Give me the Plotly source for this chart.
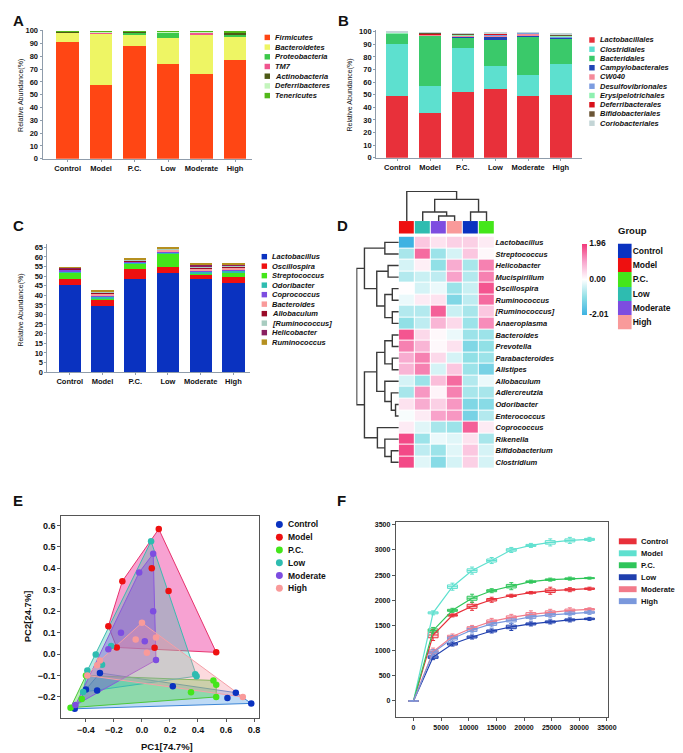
import plotly.graph_objects as go

W, H = 683, 753
FONT = "Liberation Sans, Arial, sans-serif"

#######################################################################################################################
# Data #
#######################################################################################################################

groups = ["Control", "Model", "P.C.", "Low", "Moderate", "High"]
group_colors = ["#0a32c0", "#ee1010", "#44e61a", "#2ebcb0", "#7d4de0", "#f99a9a"]
xpos = [0, 1, 2, 3, 4, 5]

# Panel A - phylum level (%)
phyla = ["Firmicutes", "Bacteroidetes", "Proteobacteria", "TM7", "Actinobacteria", "Deferribacteres", "Tenericutes"]
phyla_colors = ["#ff4614", "#eef564", "#3cc84a", "#f0558f", "#4d5a16", "#c4f5bd", "#52b81a"]
firmicutes = [91.5, 57.7, 88.4, 73.7, 66.5, 76.8]
bacteroidetes = [7.5, 40.5, 8.2, 20.9, 30.9, 19.3]
proteobacteria = [0.3, 0.3, 2.3, 4.1, 0.4, 1.3]
tm7 = [0.1, 0.2, 0.5, 0.3, 0.9, 0.3]
actinobacteria = [0.3, 0.6, 0.2, 0.3, 0.6, 1.4]
deferribacteres = [0.2, 0.4, 0.2, 0.4, 0.4, 0.3]
tenericutes = [0.1, 0.1, 0.2, 0.3, 0.3, 0.6]
a_values = [firmicutes, bacteroidetes, proteobacteria, tm7, actinobacteria, deferribacteres, tenericutes]

# Panel B - order level (%)
orders = ["Lactobacillales", "Clostridiales", "Bacteridales", "Campylobacterales", "CW040",
          "Desulfovibrionales", "Erysipelotrichales", "Deferribacterales", "Bifidobacteriales", "Coriobacteriales"]
order_colors = ["#e8303a", "#5de0cf", "#3ac96a", "#2045b5", "#f58a9a",
                "#7c9ce0", "#8ef0b0", "#d8101a", "#6b5535", "#c3d5d6"]
lactobacillales = [48.8, 35.8, 52.0, 54.3, 48.8, 49.6]
clostridiales = [41.8, 21.1, 35.5, 18.5, 16.5, 25.1]
bacteridales = [7.3, 39.7, 7.8, 20.7, 30.8, 19.6]
campylobacterales = [0.2, 0.1, 0.3, 2.5, 0.3, 0.5]
cw040 = [0.3, 0.5, 0.8, 0.4, 2.2, 0.4]
desulfovibrionales = [0.2, 0.2, 0.6, 1.0, 0.2, 0.8]
erysipelotrichales = [0.2, 0.2, 0.5, 0.2, 0.1, 0.7]
deferribacterales = [0.5, 0.3, 0.2, 0.8, 0.1, 0.2]
bifidobacteriales = [0.1, 0.8, 0.2, 0.2, 0.1, 0.3]
coriobacteriales = [0.2, 0.3, 0.6, 0.3, 0.1, 0.8]
b_values = [lactobacillales, clostridiales, bacteridales, campylobacterales, cw040,
            desulfovibrionales, erysipelotrichales, deferribacterales, bifidobacteriales, coriobacteriales]

# Panel C - genus level (%)
genera = ["Lactobacillus", "Oscillospira", "Streptococcus", "Odoribacter", "Coprococcus",
          "Bacteroides", "Allobaculum", "[Ruminococcus]", "Helicobacter", "Ruminococcus"]
genus_colors = ["#0a32c0", "#ee1010", "#44e61a", "#2ebcb0", "#7d4de0",
                "#f99a9a", "#9a0a28", "#a8ccc0", "#8a2060", "#b59020"]
lactobacillus = [45.3, 34.6, 48.7, 51.8, 48.7, 46.3]
oscillospira = [3.1, 2.9, 5.2, 2.9, 1.7, 3.1]
streptococcus = [3.4, 0.5, 2.5, 6.6, 0.6, 2.1]
odoribacter = [0.6, 1.0, 0.5, 0.8, 1.3, 1.0]
coprococcus = [0.6, 0.6, 0.4, 0.6, 0.5, 0.8]
bacteroides_c = [0.3, 1.3, 0.3, 0.8, 0.8, 1.0]
allobaculum = [0.3, 0.4, 0.4, 0.3, 0.9, 0.6]
ruminococcus_b = [0.2, 0.4, 0.2, 0.3, 0.4, 0.4]
helicobacter = [0.3, 0.3, 0.2, 0.2, 0.7, 0.4]
ruminococcus = [0.3, 0.4, 0.3, 0.3, 0.5, 0.4]
c_values = [lactobacillus, oscillospira, streptococcus, odoribacter, coprococcus,
            bacteroides_c, allobaculum, ruminococcus_b, helicobacter, ruminococcus]

# Panel D - heatmap (z-score), columns in clustered order
heat_cols = ["Model", "Low", "Moderate", "High", "Control", "P.C."]
heat_rows = ["Lactobacillus", "Streptococcus", "Helicobacter", "Mucispirillum", "Oscillospira",
             "Ruminococcus", "[Ruminococcus]", "Anaeroplasma", "Bacteroides", "Prevotella",
             "Parabacteroides", "Alistipes", "Allobaculum", "Adlercreutzia", "Odoribacter",
             "Enterococcus", "Coprococcus", "Rikenella", "Bifidobacterium", "Clostridium"]
heat_values = [
    [-2.0, 0.6, 0.3, 0.5, 0.5, 0.2],
    [-0.8, 1.5, -0.9, -0.4, 0.6, 0.05],
    [-0.4, 0.15, -1.0, 0.9, -0.8, 1.3],
    [-0.7, -0.5, -0.6, 1.0, -0.7, 1.3],
    [0.0, -0.4, -0.2, -0.9, -0.5, 1.7],
    [-0.2, 0.2, 0.3, -1.2, -0.6, 1.5],
    [-0.7, -0.7, 1.6, -0.5, -0.8, 0.6],
    [-1.0, -0.6, 0.8, 0.4, -0.9, 1.2],
    [1.7, 0.4, 0.05, -0.2, -0.9, -0.9],
    [1.3, 0.8, 0.05, 0.3, -1.2, -1.0],
    [0.9, 1.3, 0.4, -0.4, -1.0, -0.9],
    [0.8, 1.3, -0.4, 0.6, -0.9, -1.3],
    [-0.4, -0.9, 0.7, 1.5, -0.7, -0.2],
    [-0.8, 1.1, 0.1, 1.3, -0.8, -0.8],
    [0.3, 0.9, 0.5, 1.1, -1.2, -1.1],
    [-0.1, 0.2, 1.0, 1.1, -1.3, -0.7],
    [0.2, -0.3, -0.8, -0.9, 1.6, 0.2],
    [1.8, -0.9, -0.2, -0.3, 0.3, -0.8],
    [1.8, -0.6, -0.9, -0.3, 0.6, -0.4],
    [1.8, -0.3, -1.1, -0.4, 0.5, -0.4],
]
# dendrogram merges: (left, right, height); ids >= n are earlier merges
row_merges = [(0, 1, 43), (2, 3, 33), (4, 5, 20), (6, 7, 20), (22, 23, 43), (21, 24, 68), (20, 25, 106),
              (8, 9, 20), (10, 11, 20), (27, 28, 43), (14, 15, 10), (13, 30, 23), (12, 31, 43), (29, 32, 68),
              (18, 19, 23), (17, 34, 43), (16, 35, 66), (33, 36, 106), (26, 37, 130)]
col_merges = [(2, 3, 15), (1, 6, 27), (4, 5, 27), (7, 8, 65), (0, 9, 89)]

# Panel E - PCoA
pca_x = {
    "Control": [-0.48, -0.40, -0.30, -0.32, 0.22, 0.61, 0.67, 0.78],
    "Model": [0.12, 0.07, -0.14, 0.19, -0.24, -0.18, 0.09, 0.53],
    "P.C.": [-0.51, -0.43, -0.40, 0.35, 0.51, 0.53, 0.53],
    "Low": [0.065, -0.22, -0.33, -0.285, -0.39, -0.42, 0.38, 0.39],
    "Moderate": [0.08, -0.02, -0.15, 0.08, 0.02, -0.24, 0.10, -0.475],
    "High": [0.0, -0.045, 0.10, 0.035, -0.30, -0.32, -0.39, 0.72],
}
pca_y = {
    "Control": [-0.255, -0.165, -0.088, -0.17, -0.15, -0.205, -0.18, -0.23],
    "Model": [0.583, 0.40, 0.34, 0.294, 0.13, 0.031, 0.029, 0.008],
    "P.C.": [-0.25, -0.21, -0.10, -0.178, -0.123, -0.143, -0.20],
    "Low": [0.526, 0.038, -0.002, -0.05, -0.077, -0.177, -0.094, -0.103],
    "Moderate": [0.468, 0.381, 0.10, 0.20, 0.06, 0.022, -0.028, -0.238],
    "High": [0.146, 0.068, 0.077, 0.006, -0.03, -0.052, -0.10, -0.20],
}
hull_fill = ["rgba(70,150,225,0.35)", "rgba(240,70,165,0.50)", "rgba(70,215,60,0.40)",
             "rgba(60,190,175,0.35)", "rgba(125,75,215,0.40)", "rgba(247,150,160,0.35)"]
hull_line = ["#3d86d6", "#e8336e", "#4cc83a", "#3bbcb0", "#8a58dc", "#f5a0a8"]

# Panel F - rarefaction curves
depth = [0, 3550, 7050, 10600, 14150, 17700, 21250, 24750, 28300, 31850]
rare_control = [0, 1310, 1700, 1880, 2010, 2090, 2150, 2190, 2210, 2230]
rare_model = [0, 1750, 2270, 2590, 2790, 3000, 3090, 3150, 3190, 3210]
rare_pc = [0, 1400, 1800, 2040, 2190, 2280, 2370, 2410, 2430, 2440]
rare_low = [0, 870, 1130, 1270, 1390, 1470, 1530, 1570, 1610, 1630]
rare_moderate = [0, 980, 1280, 1450, 1580, 1660, 1720, 1760, 1800, 1820]
rare_high = [0, 960, 1240, 1410, 1530, 1600, 1670, 1710, 1740, 1760]
iqr_control = [0, 110, 30, 80, 50, 30, 25, 70, 40, 30]
iqr_model = [0, 40, 70, 70, 60, 50, 40, 70, 60, 40]
iqr_pc = [0, 60, 40, 80, 40, 70, 30, 30, 30, 20]
iqr_low = [0, 50, 40, 40, 40, 70, 40, 40, 40, 30]
iqr_moderate = [0, 70, 50, 50, 60, 60, 70, 60, 50, 30]
iqr_high = [0, 60, 60, 60, 60, 60, 60, 60, 50, 40]
rare_values = [rare_control, rare_model, rare_pc, rare_low, rare_moderate, rare_high]
rare_iqr = [iqr_control, iqr_model, iqr_pc, iqr_low, iqr_moderate, iqr_high]
rare_colors = ["#e8303a", "#5fe0cf", "#2fc55a", "#1f3fae", "#f27b8a", "#7a98dc"]
depth_ticks = [0, 5000, 10000, 15000, 20000, 25000, 30000, 35000]
otu_ticks = [0, 500, 1000, 1500, 2000, 2500, 3000, 3500]


#######################################################################################################################
# Helpers #
#######################################################################################################################

def fx(px):
    return px / W


def fy(py):
    return 1 - py / H


def dom_x(left, right):
    return [fx(left), fx(right)]


def dom_y(top, bottom):
    return [fy(bottom), fy(top)]


def dendro_segments(n, merges):
    pos = {i: (float(i), 0.0) for i in range(n)}
    leaf, height = [], []
    for k, (a, b, h) in enumerate(merges):
        pa, ha = pos[a]
        pb, hb = pos[b]
        leaf += [pa, pa, pb, pb, None]
        height += [ha, h, h, hb, None]
        pos[n + k] = ((pa + pb) / 2, h)
    return leaf, height


def convex_hull(xs, ys):
    pts = sorted(set(zip(xs, ys)))

    def cross(o, a, b):
        return (a[0] - o[0]) * (b[1] - o[1]) - (a[1] - o[1]) * (b[0] - o[0])

    lower, upper = [], []
    for p in pts:
        while len(lower) >= 2 and cross(lower[-2], lower[-1], p) <= 0:
            lower.pop()
        lower.append(p)
    for p in reversed(pts):
        while len(upper) >= 2 and cross(upper[-2], upper[-1], p) <= 0:
            upper.pop()
        upper.append(p)
    h = lower[:-1] + upper[:-1]
    h.append(h[0])
    return [p[0] for p in h], [p[1] for p in h]


def rgba(hexcol, a):
    hexcol = hexcol.lstrip("#")
    r, g, b = int(hexcol[0:2], 16), int(hexcol[2:4], 16), int(hexcol[4:6], 16)
    return f"rgba({r},{g},{b},{a})"


tickf = dict(family=FONT, size=7.5, color="#111", weight="bold")
AX = "#8f9cab"
FRAME = "#555555"

fig = go.Figure()
annotations = []
shapes = []


def add_text(x, y, text, size=7.5, bold=True, italic=False, xanchor="left", yanchor="middle", angle=0):
    annotations.append(dict(x=fx(x), y=fy(y), xref="paper", yref="paper", text=text, showarrow=False,
                            xanchor=xanchor, yanchor=yanchor, textangle=angle, borderpad=0,
                            font=dict(family=FONT, size=size, color="#111",
                                      weight="bold" if bold else "normal",
                                      style="italic" if italic else "normal")))


def add_square_legend(x, y0, step, names, colors, w=5.5, h=5.5, text_x=None, italic=True, size=7.5):
    for i, (name, col) in enumerate(zip(names, colors)):
        yc = y0 + i * step
        shapes.append(dict(type="rect", xref="paper", yref="paper", x0=fx(x), x1=fx(x + w),
                           y0=fy(yc + h / 2), y1=fy(yc - h / 2), fillcolor=col, line=dict(width=0)))
        add_text(text_x if text_x else x + w + 4.5, yc, name, size=size, italic=italic)


#######################################################################################################################
# Panels A, B, C - stacked bars #
#######################################################################################################################

for names, values, colors, ax in [(phyla, a_values, phyla_colors, ""),
                                  (orders, b_values, order_colors, "2"),
                                  (genera, c_values, genus_colors, "3")]:
    for name, vals, col in zip(names, values, colors):
        fig.add_trace(go.Bar(x=xpos, y=vals, name=name, width=0.68, marker=dict(color=col, line=dict(width=0)),
                             xaxis="x" + ax, yaxis="y" + ax, showlegend=False))

add_square_legend(260, 26.7, 9.8, phyla, phyla_colors)
add_square_legend(589, 29.3, 9.35, orders, order_colors)
add_square_legend(257, 248.3, 9.6, genera, genus_colors)

add_text(13, 85, "Relative Abundance(%)", size=7, bold=False, xanchor="center", angle=-90)
add_text(347, 85, "Relative Abundance(%)", size=7, bold=False, xanchor="center", angle=-90)
add_text(13, 302, "Relative Abundance(%)", size=7, bold=False, xanchor="center", angle=-90)

#######################################################################################################################
# Panel D - heatmap #
#######################################################################################################################

heat_scale = [[0, "#3db2e2"], [0.25, "#8fdfe6"], [0.5, "#ffffff"], [0.75, "#f8a6cd"], [1, "#f2387a"]]
fig.add_trace(go.Heatmap(z=heat_values, x=list(range(6)), y=list(range(len(heat_rows))),
                         colorscale=heat_scale, zmin=-2.01, zmax=1.96, xgap=1, ygap=1,
                         xaxis="x4", yaxis="y4", hoverinfo="z",
                         colorbar=dict(x=fx(582), xanchor="left", y=fy(235), yanchor="top",
                                       len=72 / H, lenmode="fraction", thickness=5, thicknessmode="pixels",
                                       outlinewidth=0, tickvals=[1.96, 0, -2.01], ticktext=["1.96", "0.00", "-2.01"],
                                       ticks="", tickfont=dict(family=FONT, size=8.5, color="#111", weight="bold"),
                                       xpad=0, ypad=0)))

col_colors = [group_colors[groups.index(c)] for c in heat_cols]
n_col = len(col_colors)
fig.add_trace(go.Heatmap(z=[list(range(n_col))], x=list(range(n_col)), y=[0],
                         colorscale=[[i / (n_col - 1), c] for i, c in enumerate(col_colors)],
                         zmin=0, zmax=n_col - 1, showscale=False, xgap=1, xaxis="x5", yaxis="y5", hoverinfo="skip"))

fig.add_trace(go.Heatmap(z=[[i] for i in range(len(groups))], x=[0], y=list(range(len(groups))),
                         colorscale=[[i / (len(groups) - 1), c] for i, c in enumerate(group_colors)],
                         zmin=0, zmax=len(groups) - 1, showscale=False, xaxis="x6", yaxis="y6", hoverinfo="skip"))
add_text(617, 222, "Group", size=9.5)

leaf, height = dendro_segments(len(heat_rows), row_merges)
fig.add_trace(go.Scatter(x=height, y=leaf, mode="lines", line=dict(color="#3a3a3a", width=1.4),
                         xaxis="x7", yaxis="y7", showlegend=False, hoverinfo="skip"))
leaf, height = dendro_segments(len(heat_cols), col_merges)
fig.add_trace(go.Scatter(x=leaf, y=height, mode="lines", line=dict(color="#3a3a3a", width=1.4),
                         xaxis="x8", yaxis="y8", showlegend=False, hoverinfo="skip"))

#######################################################################################################################
# Panel E - PCoA #
#######################################################################################################################

for g, fc, lc in zip(groups, hull_fill, hull_line):
    hx, hy = convex_hull(pca_x[g], pca_y[g])
    fig.add_trace(go.Scatter(x=hx, y=hy, mode="lines", fill="toself", fillcolor=fc,
                             line=dict(color=lc, width=1), xaxis="x9", yaxis="y9",
                             showlegend=False, hoverinfo="skip"))
for g, col in zip(groups, group_colors):
    fig.add_trace(go.Scatter(x=pca_x[g], y=pca_y[g], mode="markers", name=g,
                             marker=dict(color=col, size=6.5, line=dict(width=0)),
                             xaxis="x9", yaxis="y9", showlegend=False))

for i, (g, col) in enumerate(zip(groups, group_colors)):
    yc = 519 + i * 12.9
    shapes.append(dict(type="circle", xref="paper", yref="paper", x0=fx(271.5), x1=fx(278.5),
                       y0=fy(yc + 3.5), y1=fy(yc - 3.5), fillcolor=col, line=dict(width=0)))
    add_text(283, yc, g, size=8.5)

add_text(161, 743, "PC1[74.7%]", size=9.5, xanchor="center")
add_text(20, 612, "PC2[24.7%]", size=9.5, xanchor="center", angle=-90)

#######################################################################################################################
# Panel F - rarefaction #
#######################################################################################################################

for g, vals, iqr, col in zip(groups, rare_values, rare_iqr, rare_colors):
    fig.add_trace(go.Scatter(x=depth, y=vals, mode="lines", line=dict(color=col, width=1.2),
                             xaxis="x10", yaxis="y10", showlegend=False, hoverinfo="skip"))
    fig.add_trace(go.Box(x=depth, median=vals,
                         q1=[v - d / 2 for v, d in zip(vals, iqr)], q3=[v + d / 2 for v, d in zip(vals, iqr)],
                         lowerfence=[v - d for v, d in zip(vals, iqr)], upperfence=[v + d for v, d in zip(vals, iqr)],
                         width=1800, line=dict(color=col, width=1), fillcolor=rgba(col, 0.15),
                         whiskerwidth=0.4, name=g, xaxis="x10", yaxis="y10", showlegend=False))

add_square_legend(619, 536, 12.1, groups, rare_colors, w=18, h=6, text_x=640, italic=False, size=7.6)

#######################################################################################################################
# Panel letters #
#######################################################################################################################

for letter, x, y in [("A", 4, 10), ("B", 333, 10), ("C", 4, 217), ("D", 332, 217), ("E", 4, 495), ("F", 332, 495)]:
    add_text(x, y, letter, size=15)

#######################################################################################################################
# Layout #
#######################################################################################################################

def bar_x(dom, rng, anchor):
    return dict(domain=dom, range=rng, anchor=anchor, tickvals=xpos, ticktext=groups, showline=True,
                linecolor=AX, linewidth=1, ticks="outside", ticklen=2, tickcolor=AX, tickfont=tickf,
                showgrid=False, zeroline=False)


def bar_y(dom, rng, dtick, anchor):
    return dict(domain=dom, range=rng, anchor=anchor, dtick=dtick, tick0=0, showline=True, linecolor=AX,
                linewidth=1, ticks="outside", ticklen=2, tickcolor=AX, tickfont=tickf,
                showgrid=False, zeroline=False)


hidden = dict(showticklabels=False, showgrid=False, zeroline=False, showline=False, ticks="")
frame_f = dict(showline=True, mirror=True, linecolor=FRAME, linewidth=1, ticks="outside", ticklen=3,
               tickcolor=FRAME, showgrid=False, zeroline=False)

fig.update_layout(
    width=W, height=H, margin=dict(l=0, r=0, t=0, b=0),
    paper_bgcolor="white", plot_bgcolor="white", barmode="stack", showlegend=False,
    font=dict(family=FONT, color="#111"),
    xaxis=bar_x(dom_x(35, 247), [-0.75, 5.5], "y"),
    yaxis=bar_y(dom_y(18.7, 149.3), [0, 101], 10, "x"),
    xaxis2=bar_x(dom_x(373, 582), [-0.65, 5.66], "y2"),
    yaxis2=bar_y(dom_y(19.7, 148.3), [0, 101], 10, "x2"),
    xaxis3=bar_x(dom_x(40, 245), [-0.68, 5.5], "y3"),
    yaxis3=bar_y(dom_y(236, 365), [0, 66.5], 5, "x3"),
    xaxis4=dict(domain=dom_x(396, 493), range=[-0.5, 5.5], anchor="y4", **hidden),
    yaxis4=dict(domain=dom_y(228, 462), range=[len(heat_rows) - 0.5, -0.5], anchor="x4", side="right",
                tickvals=list(range(len(heat_rows))), ticktext=heat_rows, ticks="", showline=False,
                showgrid=False, zeroline=False,
                tickfont=dict(family=FONT, size=7.5, color="#111", weight="bold", style="italic")),
    xaxis5=dict(domain=dom_x(396, 493), range=[-0.5, 5.5], anchor="y5", **hidden),
    yaxis5=dict(domain=dom_y(212.3, 225), range=[-0.5, 0.5], anchor="x5", **hidden),
    xaxis6=dict(domain=dom_x(618, 632), range=[-0.5, 0.5], anchor="y6", **hidden),
    yaxis6=dict(domain=dom_y(235, 322), range=[len(groups) - 0.5, -0.5], anchor="x6", side="right",
                tickvals=list(range(len(groups))), ticktext=groups, ticks="", showline=False,
                showgrid=False, zeroline=False,
                tickfont=dict(family=FONT, size=8.5, color="#111", weight="bold")),
    xaxis7=dict(domain=dom_x(353, 396), range=[131, 0], anchor="y7", **hidden),
    yaxis7=dict(domain=dom_y(228, 462), range=[len(heat_rows) - 0.5, -0.5], anchor="x7", **hidden),
    xaxis8=dict(domain=dom_x(396, 493), range=[-0.5, 5.5], anchor="y8", **hidden),
    yaxis8=dict(domain=dom_y(182, 212.3), range=[0, 90], anchor="x8", **hidden),
    xaxis9=dict(domain=dom_x(54, 254), range=[-0.576, 0.833], anchor="y9",
                tickvals=[-0.4, -0.2, 0.0, 0.2, 0.4, 0.6, 0.8], tickformat=".1f",
                tickfont=dict(family=FONT, size=9, color="#111", weight="bold"), **frame_f),
    yaxis9=dict(domain=dom_y(510, 715), range=[-0.300, 0.646], anchor="x9",
                tickvals=[-0.2, -0.1, 0.0, 0.1, 0.2, 0.3, 0.4, 0.5, 0.6], tickformat=".1f",
                tickfont=dict(family=FONT, size=9, color="#111", weight="bold"), **frame_f),
    xaxis10=dict(domain=dom_x(393, 608), range=[-3200, 35200], anchor="y10",
                 tickvals=depth_ticks, ticktext=[str(t) for t in depth_ticks],
                 tickfont=dict(family=FONT, size=7, color="#111", weight="bold"), **frame_f),
    yaxis10=dict(domain=dom_y(516, 714), range=[-328, 3565], anchor="x10",
                 tickvals=otu_ticks, ticktext=[str(t) for t in otu_ticks],
                 tickfont=dict(family=FONT, size=7, color="#111", weight="bold"), **frame_f),
    annotations=annotations,
    shapes=shapes,
)

fig.write_html("out.html")
